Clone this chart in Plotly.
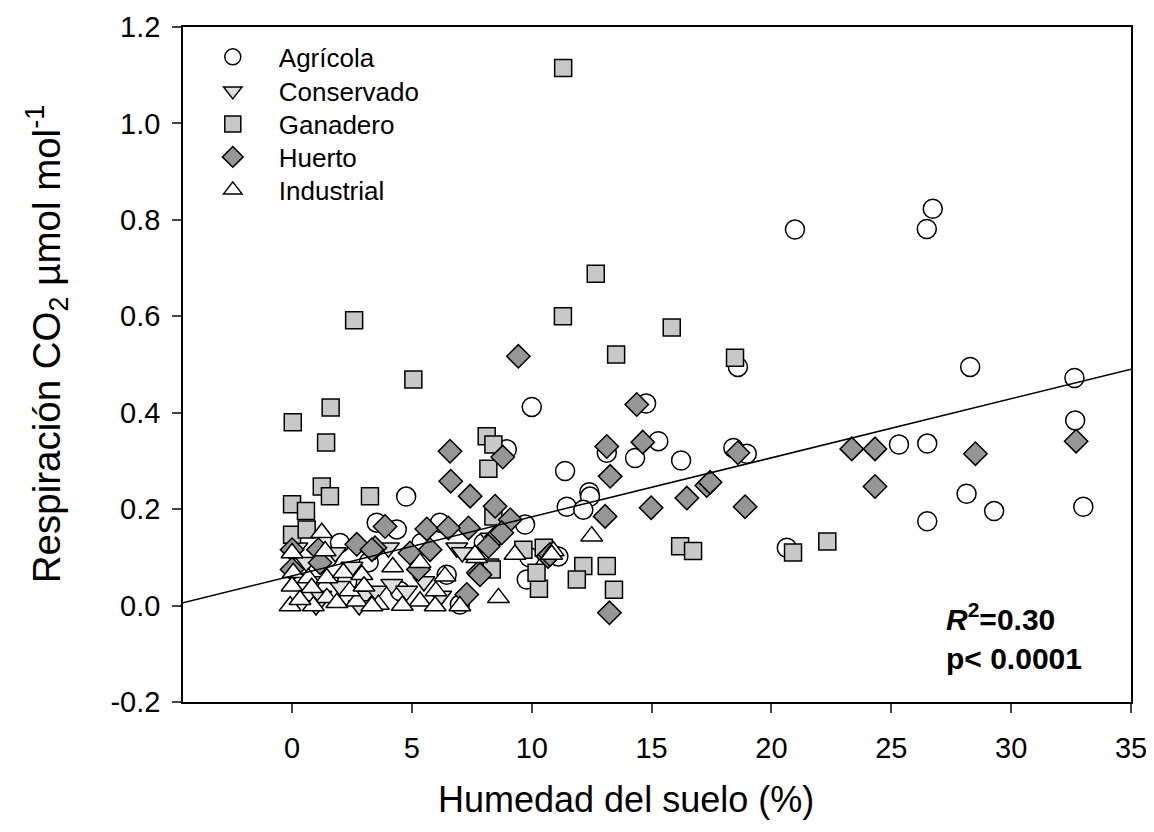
import plotly.graph_objects as go

# ---- Data ----
agricola_x = [10.0, 11.39, 8.96, 14.77, 13.13, 15.28, 14.31, 16.23, 12.4, 12.43, 11.46, 12.15, 11.11,
              18.41, 18.97, 18.6, 20.98, 26.73, 26.48, 28.29, 32.64, 32.67, 25.32, 26.5, 28.14, 29.29,
              33.01, 26.5, 20.64, 4.76, 9.72, 3.53, 4.37, 6.17, 6.45, 7.0, 9.79, 5.4, 2.0, 1.5, 3.2,
              2.3, 0.3, 4.5, 8.0, 9.9]
agricola_y = [0.412, 0.279, 0.324, 0.419, 0.317, 0.341, 0.306, 0.301, 0.235, 0.226, 0.205, 0.199, 0.102,
              0.327, 0.315, 0.495, 0.78, 0.823, 0.781, 0.495, 0.472, 0.384, 0.334, 0.336, 0.232, 0.196,
              0.205, 0.175, 0.12, 0.226, 0.168, 0.172, 0.158, 0.172, 0.064, 0.002, 0.054, 0.13, 0.13, 0.10, 0.09,
              0.05, 0.08, 0.03, 0.13, 0.10]

conservado_x = [0.2, 0.6, 1.2, 1.0, 2.0, 2.5, 3.0, 1.8, 4.02, 6.87, 4.16, 4.78, 3.5, 5.5, 6.2, 7.1, 2.8, 0.9, 8.3]
conservado_y = [0.12, 0.09, 0.02, 0.0, 0.04, 0.08, 0.02, 0.11, 0.12, 0.12, 0.044, 0.03, 0.03, 0.05, 0.02, 0.11, 0.0, 0.05, 0.14]

ganadero_x = [11.31, 2.59, 5.06, 0.03, 1.61, 1.42, 1.24, 1.58, 0.0, 0.58, 3.25, 0.0, 0.61, 12.67, 11.3,
              15.84, 13.52, 18.48, 8.12, 8.4, 8.19, 10.5, 12.15, 11.88, 13.13, 13.43, 10.3, 16.19, 16.73,
              20.9, 22.33, 9.65, 10.2, 8.26, 8.4, 8.33]
ganadero_y = [1.115, 0.592, 0.469, 0.38, 0.411, 0.338, 0.247, 0.227, 0.21, 0.196, 0.227, 0.147, 0.158, 0.688, 0.60,
              0.577, 0.521, 0.514, 0.351, 0.334, 0.284, 0.12, 0.082, 0.054, 0.082, 0.033, 0.035, 0.123, 0.113,
              0.110, 0.133, 0.116, 0.068, 0.079, 0.185, 0.075]

huerto_x = [9.44, 6.59, 8.79, 6.62, 14.38, 13.13, 14.63, 13.27, 13.06, 14.98, 16.47, 17.3, 17.44, 13.24,
            18.6, 18.9, 10.68, 32.71, 23.35, 24.32, 28.51, 24.32, 7.43, 8.47, 9.1, 8.54, 8.75, 7.36, 8.19,
            7.77, 7.29, 3.88, 5.62, 6.52, 3.46, 4.92, 5.76, 5.27, 7.84, 0.0, 1.1, 2.7, 3.33, 0.0, 1.17, 10.76]
huerto_y = [0.517, 0.32, 0.308, 0.258, 0.417, 0.33, 0.339, 0.268, 0.185, 0.203, 0.223, 0.249, 0.256, -0.015,
            0.317, 0.205, 0.102, 0.341, 0.325, 0.325, 0.315, 0.247, 0.227, 0.206, 0.178, 0.144, 0.151, 0.161, 0.123,
            0.068, 0.023, 0.164, 0.159, 0.161, 0.12, 0.109, 0.116, 0.075, 0.064, 0.116, 0.116, 0.127, 0.116, 0.075, 0.089, 0.106]

industrial_x = [12.5, 10.9, 5.34, 7.7, 9.3, 10.83, 6.38, 8.61, 3.6, 5.34, 5.97, 7.0, 7.63, 1.24, 0.0, 1.38,
                0.05, 0.68, 1.45, 2.14, 2.91, 0.0, 0.82, 1.45, -0.08, 0.89, 1.87, 2.7, 3.33, 0.33, 2.4, 3.0,
                4.2, 6.0, 4.6]
industrial_y = [0.144, 0.113, 0.089, 0.099, 0.106, 0.106, 0.061, 0.016, 0.002, 0.009, -0.001, -0.001, 0.106, 0.151, 0.109, 0.113,
                0.068, 0.057, 0.057, 0.068, 0.064, 0.04, 0.037, 0.016, -0.001, -0.001, 0.006, 0.009, -0.001, 0.012, 0.03, 0.04,
                0.08, 0.03, 0.0]

# regression fit (y = a + b x)
fit_intercept = 0.0617
fit_slope = 0.01224
x_range = [-4.55, 35]
y_range = [-0.2, 1.2]
x_ticks = [0, 5, 10, 15, 20, 25, 30, 35]
y_ticks = [-0.2, 0.0, 0.2, 0.4, 0.6, 0.8, 1.0, 1.2]
y_tick_labels = ["-0.2", "0.0", "0.2", "0.4", "0.6", "0.8", "1.0", "1.2"]

font = "Liberation Sans, Arial, sans-serif"
edge = dict(color="black", width=1.5)

fig = go.Figure()
series = [
    ("Agrícola", agricola_x, agricola_y, "circle", "white", 19),
    ("Conservado", conservado_x, conservado_y, "triangle-down", "#dedede", 19),
    ("Ganadero", ganadero_x, ganadero_y, "square", "#c8c8c8", 17),
    ("Huerto", huerto_x, huerto_y, "diamond", "#969696", 18),
    ("Industrial", industrial_x, industrial_y, "triangle-up", "white", 19),
]
legend_ids = ["legend", "legend2", "legend3", "legend4", "legend5"]
legend_rows_y = [0.9556, 0.9052, 0.8563, 0.8074, 0.7585]

for (name, xs, ys, sym, fill, size), lid in zip(series, legend_ids):
    fig.add_trace(go.Scatter(
        x=xs, y=ys, mode="markers", name=name, legend=lid,
        marker=dict(symbol=sym, size=size, color=fill, line=edge),
    ))

fit_x = x_range
fit_y = [fit_intercept + fit_slope * v for v in fit_x]
fig.add_trace(go.Scatter(x=fit_x, y=fit_y, mode="lines", showlegend=False,
                         line=dict(color="black", width=1.5)))

legend_layout = {}
for lid, ly in zip(legend_ids, legend_rows_y):
    legend_layout[lid] = dict(x=0.004, y=ly, xanchor="left", yanchor="middle",
                              bgcolor="rgba(0,0,0,0)", font=dict(size=26, family=font),
                              itemsizing="trace", itemwidth=82)

fig.update_layout(
    width=1146, height=824,
    margin=dict(l=175, r=23, t=19, b=130, autoexpand=False),
    plot_bgcolor="white", paper_bgcolor="white",
    font=dict(family=font, size=28, color="black"),
    showlegend=True,
    xaxis=dict(range=x_range, tickvals=x_ticks, ticks="outside", ticklen=9, tickwidth=1.5,
               tickfont=dict(size=29), ticklabelstandoff=10, automargin=False,
               showline=True, linecolor="black", linewidth=1.5, mirror=True,
               showgrid=False, zeroline=False),
    yaxis=dict(range=y_range, tickvals=y_ticks, ticktext=y_tick_labels, ticks="outside", ticklen=9, tickwidth=1.5,
               tickfont=dict(size=29), ticklabelstandoff=6, automargin=False,
               showline=True, linecolor="black", linewidth=1.5, mirror=True,
               showgrid=False, zeroline=False),
    annotations=[
        dict(x=27.2, y=-0.064, xref="x", yref="y", xanchor="left", yanchor="middle", align="left",
             showarrow=False, font=dict(size=30, family=font),
             text="<b><i>R</i><sup>2</sup>=0.30</b><br><b>p&lt; 0.0001</b>"),
        dict(x=0.467, y=-0.145, xref="paper", yref="paper", xanchor="center", yanchor="middle",
             showarrow=False, font=dict(size=36, family=font),
             text="Humedad del suelo (%)"),
        dict(x=-0.1435, y=0.53, xref="paper", yref="paper", xanchor="center", yanchor="middle",
             showarrow=False, textangle=-90, font=dict(size=38.5, family=font),
             text="Respiración CO<sub>2</sub> µmol mol<sup>-1</sup>"),
    ],
    **legend_layout,
)

fig.write_html("out.html")
